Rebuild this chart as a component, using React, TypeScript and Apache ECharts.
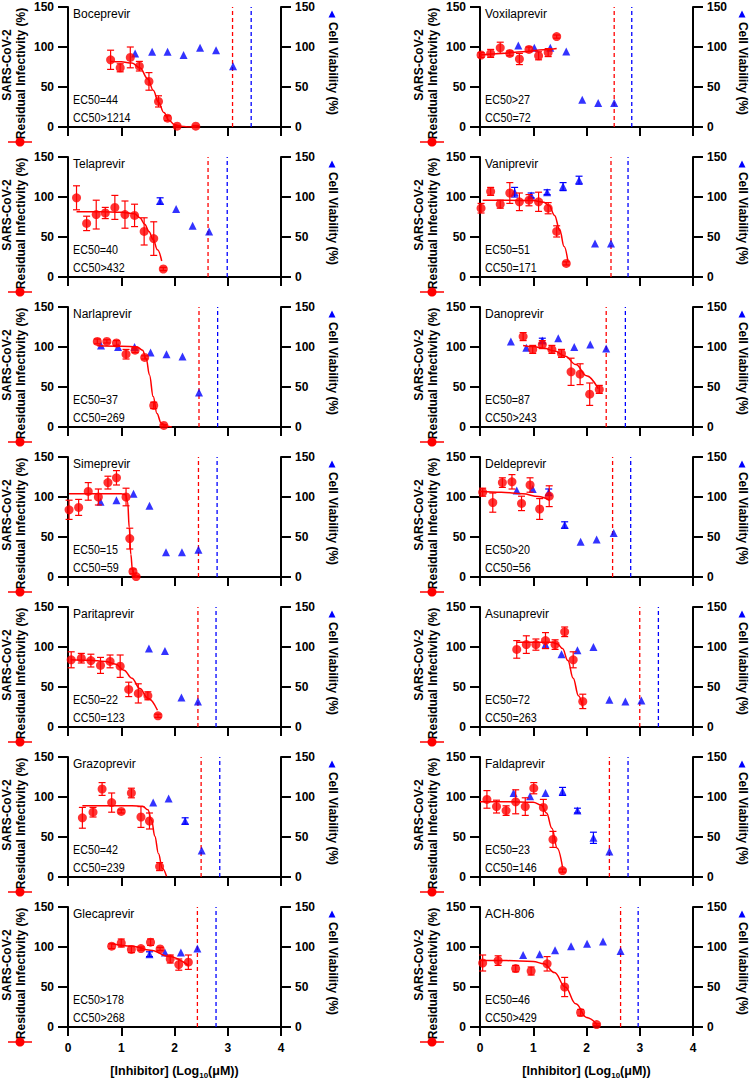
import React, { useEffect, useRef } from "react";
import * as echarts from "echarts";

// ---------- data ----------
const drugNames = [
  "Boceprevir", "Voxilaprevir", "Telaprevir", "Vaniprevir", "Narlaprevir", "Danoprevir", "Simeprevir",
  "Deldeprevir", "Paritaprevir", "Asunaprevir", "Grazoprevir", "Faldaprevir", "Glecaprevir", "ACH-806",
];
const ec50Labels = ["EC50=44", "EC50>27", "EC50=40", "EC50=51", "EC50=37", "EC50=87", "EC50=15", "EC50>20", "EC50=22", "EC50=72", "EC50=42", "EC50=23", "EC50>178", "EC50=46"];
const cc50Labels = ["CC50>1214", "CC50=72", "CC50>432", "CC50=171", "CC50=269", "CC50>243", "CC50=59", "CC50=56", "CC50=123", "CC50=263", "CC50=239", "CC50=146", "CC50>268", "CC50>429"];
const redDashX = [3.09, 2.52, 2.63, 2.46, 2.46, 2.37, 2.45, 2.49, 2.44, 3.0, 2.5, 2.43, 2.43, 2.64];
const blueDashX = [3.44, 2.85, 2.99, 2.78, 2.81, 2.73, 2.8, 2.83, 2.78, 3.35, 2.85, 2.78, 2.78, 2.97];

// [log10 conc, value, error]
const boceprevirInf = [[0.8, 84, 12], [0.98, 74, 5], [1.17, 87, 13], [1.34, 76, 6], [1.52, 57, 11], [1.7, 32, 7], [1.87, 11, 3], [2.05, 1, 1], [2.4, 1, 1]];
const boceprevirFit = [[0.8, 82], [1.0, 81.5], [1.2, 80], [1.35, 74], [1.5, 60], [1.6, 46], [1.7, 31], [1.8, 18], [1.9, 8], [2.0, 3], [2.1, 1], [2.25, 0], [2.4, 0]];
const boceprevirVia = [[1.26, 92, 0], [1.58, 94, 0], [1.87, 94, 0], [2.17, 90, 0], [2.48, 99, 0], [2.78, 96, 0], [3.1, 76, 0]];

const voxilaprevirInf = [[0.02, 90, 3], [0.2, 92, 5], [0.38, 99, 7], [0.56, 92, 3], [0.74, 85, 7], [0.92, 97, 3], [1.1, 89, 5], [1.28, 93, 5], [1.44, 113, 2]];
const voxilaprevirFit = [[0.0, 90], [0.4, 92], [0.8, 94], [1.2, 96.5], [1.44, 98]];
const voxilaprevirVia = [[0.72, 102, 0], [1.02, 99, 0], [1.32, 99, 0], [1.62, 94.5, 0], [1.92, 34, 0], [2.22, 30, 0], [2.52, 30, 0]];

const telaprevirInf = [[0.16, 99, 15], [0.35, 67, 9], [0.53, 78, 18], [0.7, 80, 7], [0.88, 87, 15], [1.07, 78, 17], [1.25, 77, 14], [1.43, 57, 17], [1.61, 48, 21], [1.79, 10, 2]];
const telaprevirFit = [[0.16, 81.5], [0.6, 81.5], [1.0, 81], [1.25, 79], [1.35, 74], [1.44, 66], [1.52, 57], [1.6, 47], [1.68, 34], [1.76, 20]];
const telaprevirVia = [[1.73, 95, 4], [2.03, 85, 0], [2.34, 64, 0], [2.65, 57, 0]];

const vaniprevirInf = [[0.02, 86, 6], [0.2, 107, 5], [0.38, 91, 5], [0.56, 105, 13], [0.74, 94, 11], [0.92, 96, 7], [1.1, 94, 12], [1.28, 86, 7], [1.44, 57, 7], [1.62, 17, 2]];
const vaniprevirFit = [[0.05, 96], [0.5, 96], [1.0, 95.5], [1.2, 93.5], [1.3, 89], [1.4, 77], [1.5, 58], [1.58, 38], [1.65, 20]];
const vaniprevirVia = [[0.65, 106, 6], [0.96, 102, 3], [1.26, 106, 3], [1.56, 113, 5], [1.86, 121, 5], [2.16, 42, 0], [2.46, 42, 0]];

const narlaprevirInf = [[0.55, 107, 3], [0.73, 107, 2], [0.91, 105, 3], [1.09, 91, 6], [1.26, 96, 3], [1.44, 87, 2], [1.61, 27, 4], [1.8, 2, 1]];
const narlaprevirFit = [[0.55, 101.5], [1.0, 101], [1.3, 100], [1.4, 96], [1.47, 85], [1.53, 65], [1.6, 38], [1.67, 17], [1.75, 5], [1.85, 1], [1.95, 0]];
const narlaprevirVia = [[0.62, 102, 0], [0.94, 100, 0], [1.25, 100, 0], [1.55, 93, 0], [1.85, 91, 0], [2.15, 88, 0], [2.46, 43, 0]];

const danoprevirInf = [[0.81, 113, 5], [0.99, 97, 5], [1.17, 103, 5], [1.35, 97, 5], [1.53, 92, 5], [1.71, 69, 17], [1.88, 66, 13], [2.06, 41, 14], [2.24, 47, 5]];
const danoprevirFit = [[0.81, 102], [1.0, 100.5], [1.2, 98.5], [1.4, 95], [1.6, 88.5], [1.8, 78], [2.0, 64], [2.22, 48]];
const danoprevirVia = [[0.58, 107, 0], [0.87, 99, 0], [1.17, 108, 3], [1.47, 111, 0], [1.77, 100, 0], [2.07, 103, 0], [2.37, 98, 0]];

const simeprevirInf = [[0.02, 84, 12], [0.2, 87, 10], [0.38, 107, 11], [0.57, 100, 10], [0.75, 118, 8], [0.91, 124, 9], [1.09, 100, 11], [1.16, 48, 13], [1.22, 7, 3], [1.28, 0.5, 1]];
const simeprevirFit = [[0.02, 104], [0.5, 104], [1.0, 104], [1.08, 103], [1.12, 94], [1.15, 62], [1.18, 28], [1.21, 9], [1.25, 2], [1.29, 0]];
const simeprevirVia = [[0.61, 94, 0], [0.91, 96, 0], [1.23, 104, 0], [1.53, 89, 0], [1.84, 31, 0], [2.14, 31, 0], [2.45, 34, 0]];

const deldeprevirInf = [[0.05, 106, 5], [0.24, 93, 12], [0.42, 118, 6], [0.6, 119, 9], [0.78, 92, 9], [0.94, 115, 9], [1.12, 85, 13], [1.3, 101, 13]];
const deldeprevirFit = [[0.0, 107], [0.4, 106], [0.8, 104], [1.1, 100.5], [1.3, 96]];
const deldeprevirVia = [[0.69, 108, 0], [0.99, 110, 0], [1.29, 106, 4], [1.59, 65, 4], [1.89, 44, 0], [2.19, 47, 0], [2.51, 55, 0]];

const paritaprevirInf = [[0.06, 84, 10], [0.25, 86, 6], [0.43, 83, 8], [0.61, 77, 10], [0.79, 82, 8], [0.98, 76, 14], [1.14, 47, 9], [1.32, 42, 12], [1.5, 39, 5], [1.69, 14, 2]];
const paritaprevirFit = [[0.05, 84], [0.4, 83.5], [0.7, 82], [0.9, 78.5], [1.05, 71], [1.2, 61], [1.35, 48], [1.5, 36], [1.68, 21]];
const paritaprevirVia = [[1.52, 98, 0], [1.82, 95, 0], [2.13, 37, 0], [2.44, 32, 0]];

const asunaprevirInf = [[0.69, 97, 11], [0.87, 103, 11], [1.05, 103, 7], [1.23, 108, 10], [1.41, 103, 6], [1.59, 119, 6], [1.75, 84, 10], [1.93, 32, 9]];
const asunaprevirFit = [[0.69, 106], [1.0, 106], [1.35, 106], [1.45, 104], [1.55, 98], [1.65, 83], [1.75, 61], [1.85, 39], [1.93, 24]];
const asunaprevirVia = [[1.23, 103, 0], [1.53, 91, 0], [1.83, 96, 0], [2.13, 100, 0], [2.43, 34, 0], [2.73, 32, 0], [3.03, 33, 0]];

const grazoprevirInf = [[0.27, 74, 13], [0.47, 81, 6], [0.64, 110, 8], [0.82, 93, 12], [1.0, 82, 2], [1.19, 105, 6], [1.37, 75, 13], [1.53, 70, 10], [1.72, 13, 5]];
const grazoprevirFit = [[0.27, 89], [0.8, 89], [1.2, 89], [1.4, 88.5], [1.5, 84], [1.57, 71], [1.63, 51], [1.7, 29], [1.77, 11], [1.85, 1]];
const grazoprevirVia = [[1.6, 93, 0], [1.89, 98, 0], [2.2, 70, 4], [2.51, 33, 0]];

const faldaprevirInf = [[0.13, 97, 11], [0.31, 88, 8], [0.49, 83, 6], [0.67, 94, 15], [0.85, 88, 11], [1.01, 111, 7], [1.19, 87, 10], [1.37, 47, 10], [1.55, 8, 2]];
const faldaprevirFit = [[0.0, 94], [0.5, 94], [1.0, 93.5], [1.15, 90], [1.25, 80], [1.35, 61], [1.45, 36], [1.55, 12]];
const faldaprevirVia = [[0.63, 105, 0], [0.94, 101, 0], [1.23, 105, 0], [1.55, 107, 5], [1.83, 83, 3], [2.13, 49, 7], [2.43, 32, 0]];

const glecaprevirInf = [[0.82, 101, 3], [1.0, 105, 5], [1.19, 97, 4], [1.37, 98, 2], [1.55, 106, 4], [1.73, 97.5, 2], [1.92, 85, 5], [2.08, 78, 7], [2.26, 81, 9]];
const glecaprevirFit = [[0.82, 104], [1.2, 101], [1.55, 96], [1.9, 88], [2.26, 77]];
const glecaprevirVia = [[1.53, 91, 3], [1.82, 93, 0], [2.12, 93, 0], [2.43, 98, 0]];

const ach806Inf = [[0.05, 80, 10], [0.34, 83, 6], [0.67, 73, 4], [0.96, 70, 5], [1.26, 79, 9], [1.59, 50, 12], [1.89, 18, 4], [2.19, 3, 1]];
const ach806Fit = [[0.0, 83], [0.5, 83], [1.0, 82], [1.2, 79], [1.4, 68], [1.6, 50], [1.8, 29], [2.0, 12], [2.19, 4]];
const ach806Via = [[0.81, 90, 0], [1.12, 91, 0], [1.41, 96, 0], [1.71, 101, 0], [2.01, 104, 0], [2.31, 107, 0], [2.64, 95, 0]];

const infectivity = [boceprevirInf, voxilaprevirInf, telaprevirInf, vaniprevirInf, narlaprevirInf, danoprevirInf, simeprevirInf, deldeprevirInf, paritaprevirInf, asunaprevirInf, grazoprevirInf, faldaprevirInf, glecaprevirInf, ach806Inf];
const fits = [boceprevirFit, voxilaprevirFit, telaprevirFit, vaniprevirFit, narlaprevirFit, danoprevirFit, simeprevirFit, deldeprevirFit, paritaprevirFit, asunaprevirFit, grazoprevirFit, faldaprevirFit, glecaprevirFit, ach806Fit];
const viability = [boceprevirVia, voxilaprevirVia, telaprevirVia, vaniprevirVia, narlaprevirVia, danoprevirVia, simeprevirVia, deldeprevirVia, paritaprevirVia, asunaprevirVia, grazoprevirVia, faldaprevirVia, glecaprevirVia, ach806Via];

// ---------- styling / layout ----------
const RED = "#ff0000";
const BLUE = "#0000ff";
const FONT = "'Liberation Sans', Arial, sans-serif";
const COL_LEFT = [68, 480];
const COL_OFF = [0, 412];
const GRID_W = 213;
const ROW_H = 150;
const GRID_TOP = 7;
const GRID_H = 120;

function errorBars(color: string) {
  return (params: any, api: any) => {
    const x = api.value(0);
    const y = api.value(1);
    const e = api.value(2);
    if (!e) return { type: "group", children: [] };
    const t = api.coord([x, y + e]);
    const b = api.coord([x, y - e]);
    const cw = 3.5;
    const st = { stroke: color, lineWidth: 1.2 };
    return {
      type: "group",
      children: [
        { type: "line", shape: { x1: t[0], y1: t[1], x2: b[0], y2: b[1] }, style: st },
        { type: "line", shape: { x1: t[0] - cw, y1: t[1], x2: t[0] + cw, y2: t[1] }, style: st },
        { type: "line", shape: { x1: b[0] - cw, y1: b[1], x2: b[0] + cw, y2: b[1] }, style: st },
      ],
    };
  };
}

function txt(x: number, y: number, text: string, opts: any = {}) {
  return {
    type: "text",
    x,
    y,
    rotation: opts.rotation || 0,
    scaleX: opts.scaleX || 1,
    style: {
      text,
      fill: "#000",
      fontSize: opts.fontSize || 12,
      fontWeight: opts.fontWeight || "normal",
      fontFamily: FONT,
      align: opts.align || "left",
      verticalAlign: "middle",
      textAlign: opts.align || "left",
      textVerticalAlign: "middle",
    },
  };
}

function buildOption() {
  const grids: any[] = [];
  const xAxes: any[] = [];
  const yAxes: any[] = [];
  const series: any[] = [];
  const graphics: any[] = [];
  const axisLine = { show: true, onZero: false, lineStyle: { color: "#000", width: 2 } };
  const axisTick = (len: number) => ({ show: true, length: len, lineStyle: { color: "#000", width: 2 } });

  drugNames.forEach((name, i) => {
    const row = Math.floor(i / 2);
    const col = i % 2;
    const gx = COL_LEFT[col];
    const off = COL_OFF[col];
    const y0 = row * ROW_H;
    grids.push({ left: gx, top: y0 + GRID_TOP, width: GRID_W, height: GRID_H });
    xAxes.push({
      gridIndex: i, type: "value", min: 0, max: 4, interval: 1,
      axisLine, axisTick: axisTick(9), splitLine: { show: false },
      axisLabel: { show: row === 6, margin: 15, color: "#000", fontWeight: "bold", fontSize: 12, fontFamily: FONT },
    });
    ["left", "right"].forEach((pos) => {
      yAxes.push({
        gridIndex: i, type: "value", min: 0, max: 150, interval: 50, position: pos,
        axisLine, axisTick: axisTick(10), splitLine: { show: false },
        axisLabel: { margin: 14, color: "#000", fontWeight: "bold", fontSize: 12, fontFamily: FONT },
      });
    });
    const yl = 2 * i;
    const yr = 2 * i + 1;
    series.push({
      type: "line", xAxisIndex: i, yAxisIndex: yl, symbol: "none", z: 1,
      data: [[redDashX[i], 0], [redDashX[i], 150]],
      lineStyle: { color: RED, width: 1.3, type: [4, 3] },
    });
    series.push({
      type: "line", xAxisIndex: i, yAxisIndex: yl, symbol: "none", z: 1,
      data: [[blueDashX[i], 0], [blueDashX[i], 150]],
      lineStyle: { color: BLUE, width: 1.3, type: [4, 3] },
    });
    series.push({
      type: "custom", xAxisIndex: i, yAxisIndex: yr, z: 2,
      renderItem: errorBars(BLUE), data: viability[i], encode: { x: 0, y: 1 },
    });
    series.push({
      type: "scatter", xAxisIndex: i, yAxisIndex: yr, z: 3, symbol: "triangle", symbolSize: 8,
      itemStyle: { color: BLUE }, data: viability[i].map((d) => [d[0], d[1]]),
    });
    series.push({
      type: "line", xAxisIndex: i, yAxisIndex: yl, z: 4, symbol: "none", smooth: 0.4, smoothMonotone: "x",
      lineStyle: { color: RED, width: 1.5 }, data: fits[i],
    });
    series.push({
      type: "custom", xAxisIndex: i, yAxisIndex: yl, z: 5,
      renderItem: errorBars(RED), data: infectivity[i], encode: { x: 0, y: 1 },
    });
    series.push({
      type: "scatter", xAxisIndex: i, yAxisIndex: yl, z: 6, symbol: "circle", symbolSize: 9,
      itemStyle: { color: RED }, data: infectivity[i].map((d) => [d[0], d[1]]),
    });

    // texts
    graphics.push(txt(gx + 5, y0 + 13.5, name, { fontSize: 12 }));
    graphics.push(txt(gx + 5, y0 + 99.5, ec50Labels[i], { fontSize: 12.5, scaleX: 0.86 }));
    graphics.push(txt(gx + 5, y0 + 117, cc50Labels[i], { fontSize: 12.5, scaleX: 0.86 }));
    graphics.push(txt(off + 7, y0 + 65, "SARS-CoV-2", { rotation: Math.PI / 2, fontWeight: "bold", align: "center" }));
    graphics.push(txt(off + 21, y0 + 73.5, "Residual Infectivity (%)", { rotation: Math.PI / 2, fontWeight: "bold", align: "center" }));
    graphics.push({ type: "line", shape: { x1: off + 8, y1: y0 + 142, x2: off + 32, y2: y0 + 142 }, style: { stroke: RED, lineWidth: 1.5 } });
    graphics.push({ type: "circle", shape: { cx: off + 20, cy: y0 + 142, r: 4.5 }, style: { fill: RED } });
    const vx = col === 0 ? 333 : 743;
    graphics.push(txt(vx, y0 + 68.5, "Cell Viability (%)", { rotation: -Math.PI / 2, fontWeight: "bold", align: "center" }));
    graphics.push({
      type: "polygon",
      shape: { points: [[vx - 1, y0 + 10.5], [vx - 4.5, y0 + 17.5], [vx + 2.5, y0 + 17.5]] },
      style: { fill: BLUE },
    });
  });

  [0, 1].forEach((col) => {
    graphics.push({
      type: "text",
      x: COL_LEFT[col] + GRID_W / 2,
      y: 1071,
      style: {
        text: "{a|[Inhibitor] (Log}{s|10}{a|(μM))}",
        fill: "#000",
        align: "center",
        verticalAlign: "middle",
        textAlign: "center",
        textVerticalAlign: "middle",
        rich: {
          a: { fontSize: 12.5, fontWeight: "bold", fontFamily: FONT, fill: "#000", lineHeight: 16 },
          s: { fontSize: 8, fontWeight: "bold", fontFamily: FONT, fill: "#000", lineHeight: 16, verticalAlign: "bottom" },
        },
      },
    });
  });

  return {
    animation: false,
    backgroundColor: "#fff",
    grid: grids,
    xAxis: xAxes,
    yAxis: yAxes,
    series,
    graphic: { elements: graphics },
  };
}

export default function App() {
  const ref = useRef<HTMLDivElement>(null);
  useEffect(() => {
    document.body.style.margin = "0";
    if (!ref.current) return;
    const chart = echarts.init(ref.current, undefined, { renderer: "svg" });
    chart.setOption(buildOption() as any);
    return () => chart.dispose();
  }, []);
  return <div ref={ref} style={{ width: 750, height: 1079 }} />;
}
